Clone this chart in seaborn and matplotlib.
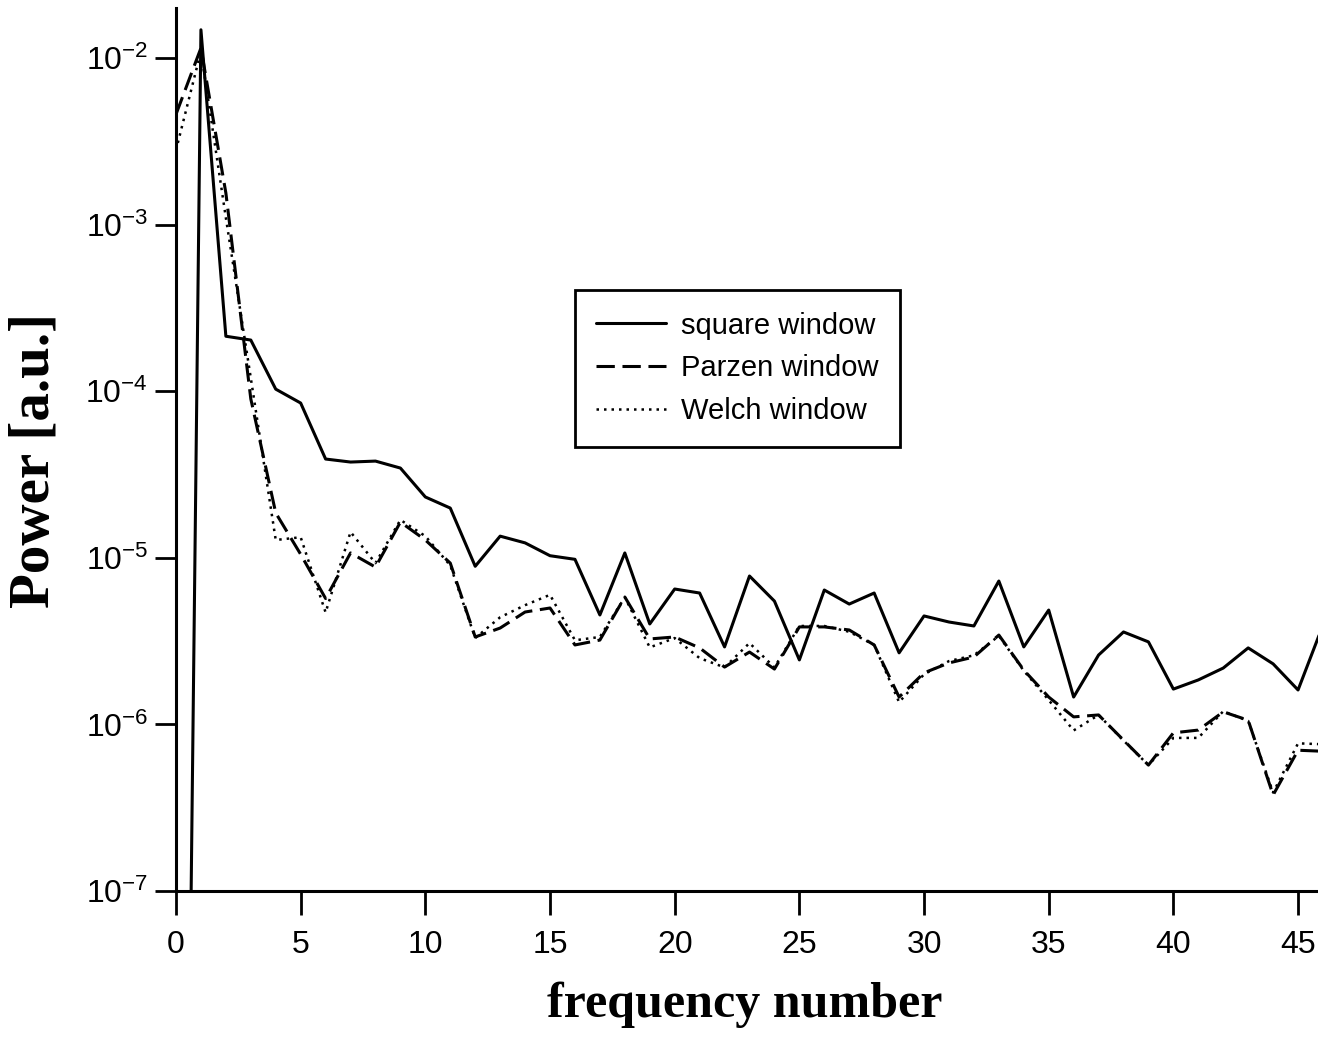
import numpy as np
import pandas as pd
import matplotlib
matplotlib.use("Agg")
import matplotlib.pyplot as plt
from matplotlib.ticker import NullLocator, FixedLocator, LogFormatterSciNotation
import seaborn as sns

freq = list(range(47))
square = [1e-15, 1.48e-2, 2.14e-4, 2.03e-4, 1.03e-4, 8.5e-5, 3.92e-5, 3.76e-5, 3.81e-5, 3.46e-5,
          2.32e-5, 1.99e-5, 8.9e-6, 1.35e-5, 1.23e-5, 1.03e-5, 9.8e-6, 4.54e-6, 1.07e-5, 4.01e-6,
          6.5e-6, 6.15e-6, 2.92e-6, 7.78e-6, 5.5e-6, 2.44e-6, 6.41e-6, 5.28e-6, 6.15e-6, 2.69e-6,
          4.48e-6, 4.12e-6, 3.9e-6, 7.26e-6, 2.92e-6, 4.86e-6, 1.46e-6, 2.61e-6, 3.59e-6, 3.13e-6,
          1.63e-6, 1.85e-6, 2.18e-6, 2.88e-6, 2.31e-6, 1.61e-6, 3.95e-6]
parzen = [4.6e-3, 1.15e-2, 1.55e-3, 9.0e-5, 1.86e-5, 1.05e-5, 5.7e-6, 1.07e-5, 8.8e-6, 1.64e-5,
          1.28e-5, 9.3e-6, 3.35e-6, 3.79e-6, 4.73e-6, 5.0e-6, 3.0e-6, 3.21e-6, 5.82e-6, 3.26e-6,
          3.35e-6, 2.88e-6, 2.21e-6, 2.72e-6, 2.15e-6, 3.85e-6, 3.85e-6, 3.69e-6, 3.0e-6, 1.46e-6,
          2.04e-6, 2.34e-6, 2.54e-6, 3.44e-6, 2.12e-6, 1.46e-6, 1.11e-6, 1.14e-6, 8.05e-7, 5.7e-7,
          8.9e-7, 9.25e-7, 1.19e-6, 1.06e-6, 3.77e-7, 7.0e-7, 6.9e-7]
welch = [2.8e-3, 1.1e-2, 1.1e-3, 1.2e-4, 1.28e-5, 1.33e-5, 4.7e-6, 1.43e-5, 9.3e-6, 1.69e-5,
         1.35e-5, 9.0e-6, 3.3e-6, 4.4e-6, 5.2e-6, 6.0e-6, 3.2e-6, 3.35e-6, 5.8e-6, 2.9e-6,
         3.3e-6, 2.5e-6, 2.2e-6, 3.08e-6, 2.2e-6, 3.9e-6, 3.9e-6, 3.6e-6, 3.0e-6, 1.36e-6,
         2.0e-6, 2.4e-6, 2.6e-6, 3.4e-6, 2.1e-6, 1.4e-6, 9.2e-7, 1.14e-6, 8.0e-7, 5.7e-7,
         8.3e-7, 8.3e-7, 1.2e-6, 1.05e-6, 3.9e-7, 7.7e-7, 7.6e-7]
series_labels = ["square window", "Parzen window", "Welch window"]
x_ticks = [0, 5, 10, 15, 20, 25, 30, 35, 40, 45]
y_ticks = [1e-7, 1e-6, 1e-5, 1e-4, 1e-3, 1e-2]

sns.set_style("ticks")
plt.rcParams["font.family"] = ["Liberation Sans", "DejaVu Sans"]
plt.rcParams["mathtext.fontset"] = "custom"
plt.rcParams["mathtext.rm"] = "Liberation Sans"
plt.rcParams["mathtext.default"] = "regular"
plt.rcParams["axes.unicode_minus"] = False
plt.rcParams["text.color"] = "black"
plt.rcParams["axes.labelcolor"] = "black"
plt.rcParams["xtick.color"] = "black"
plt.rcParams["ytick.color"] = "black"

fig = plt.figure(figsize=(13.18, 10.39), dpi=100)
ax = fig.add_axes([176/1318, 1-891/1039, 1-176/1318, (891-8)/1039])

sns.lineplot(x=freq, y=square, ax=ax, color="black", lw=2.2, label=series_labels[0])
sns.lineplot(x=freq, y=parzen, ax=ax, color="black", lw=2.2, linestyle=(0, (6, 2.5)),
             label=series_labels[1])
sns.lineplot(x=freq, y=welch, ax=ax, color="black", lw=1.8, linestyle=(0, (1, 2.0)),
             label=series_labels[2])

ax.set_yscale("log")
ax.set_ylim(1e-7, 2e-2)
ax.set_xlim(0, 45.8)
ax.yaxis.set_major_locator(FixedLocator(y_ticks))
ax.yaxis.set_major_formatter(LogFormatterSciNotation())
ax.yaxis.set_minor_locator(NullLocator())
ax.set_xticks(x_ticks)
ax.set_xticklabels([str(t) for t in x_ticks])

for side in ["top", "right"]:
    ax.spines[side].set_visible(False)
for side in ["left", "bottom"]:
    ax.spines[side].set_linewidth(2.2)
    ax.spines[side].set_color("black")

ax.tick_params(axis="x", direction="out", length=17, width=2, pad=11, labelsize=23)
ax.tick_params(axis="y", direction="out", length=15, width=2, pad=5, labelsize=23)

ax.set_xlabel("frequency number", fontfamily="Liberation Serif", fontweight="bold",
              fontsize=36)
ax.set_ylabel("Power [a.u.]", fontfamily="Liberation Serif", fontweight="bold",
              fontsize=41)
ax.xaxis.set_label_coords(0.498, -0.103)
ax.yaxis.set_label_coords(-0.101, 0.487)

leg = ax.legend(loc="upper left", bbox_to_anchor=(0.349, 0.681), frameon=True,
                fancybox=False, edgecolor="black", fontsize=21, handlelength=2.4,
                handletextpad=0.5, borderpad=0.75, labelspacing=0.5, framealpha=1,
                borderaxespad=0)
leg.get_frame().set_linewidth(2)

fig.savefig("out.png", dpi=100)
